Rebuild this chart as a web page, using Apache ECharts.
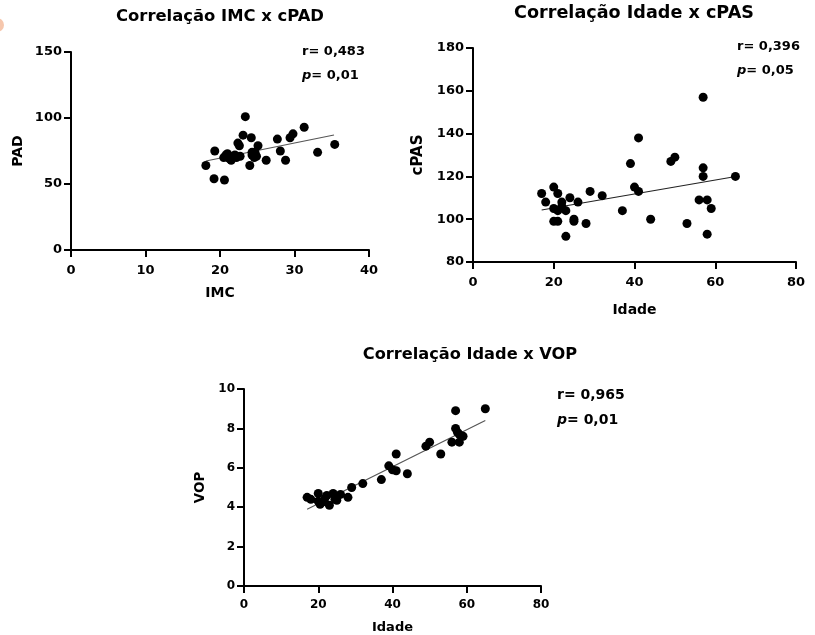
<!DOCTYPE html>
<html>
<head>
<meta charset="utf-8">
<script src="https://cdn.jsdelivr.net/npm/echarts@6/dist/echarts.min.js"></script>
<style>
  html, body { margin: 0; padding: 0; background: #fff; }
  #chart { width: 815px; height: 635px; }
</style>
</head>
<body>
<div id="chart"></div>
<script>
// Correlação IMC x cPAD : [IMC, PAD]
const imcPad = [
  [18.1, 64], [19.2, 54], [19.3, 75], [20.6, 53], [20.8, 72], [21.1, 70],
  [21.5, 68], [21.8, 71], [22.2, 70], [22.7, 71], [21.0, 73], [21.3, 69],
  [22.0, 72], [20.5, 70], [22.4, 81], [22.6, 79], [23.1, 87], [23.4, 101],
  [24.2, 85], [24.0, 64], [24.3, 72], [24.3, 74], [24.6, 70], [24.7, 74],
  [24.9, 71], [25.1, 79], [26.2, 68], [27.7, 84], [28.1, 75], [28.8, 68],
  [29.4, 85], [29.8, 88], [31.3, 93], [33.1, 74], [35.4, 80]
];
const imcPadFit = [[18.1, 67.4], [35.3, 87.1]];

// Correlação Idade x cPAS : [Idade, cPAS]
const idadePas = [
  [17, 112], [18, 108], [20, 115], [21, 112], [22, 108], [20, 105],
  [21, 104], [22, 106], [23, 104], [24, 110], [26, 108], [20, 99],
  [21, 99], [25, 100], [25, 99], [23, 92], [28, 98], [29, 113],
  [32, 111], [37, 104], [39, 126], [40, 115], [41, 113], [41, 138],
  [44, 100], [49, 127], [50, 129], [53, 98], [56, 109], [57, 157],
  [57, 124], [57, 120], [58, 109], [58, 93], [59, 105], [65, 120]
];
const idadePasFit = [[17, 104.3], [64, 119.6]];

// Correlação Idade x VOP : [Idade, VOP]
const idadeVop = [
  [17, 4.5], [18, 4.4], [20, 4.7], [20, 4.3], [20.5, 4.15], [21, 4.25],
  [21.8, 4.45], [22.3, 4.6], [23, 4.1], [24, 4.7], [24.5, 4.4], [25, 4.35],
  [26, 4.65], [28, 4.5], [29, 5.0], [32, 5.2], [37, 5.4], [39, 6.1],
  [40, 5.9], [41, 5.85], [41, 6.7], [44, 5.7], [49, 7.1], [50, 7.3],
  [53, 6.7], [56, 7.3], [57, 8.9], [57, 8.0], [57.5, 7.8], [58, 7.3],
  [58, 7.7], [59, 7.6], [65, 9.0]
];
const idadeVopFit = [[17, 3.9], [65, 8.4]];

const titles = ['Correlação IMC x cPAD', 'Correlação Idade x cPAS', 'Correlação Idade x VOP'];
const xNames = ['IMC', 'Idade', 'Idade'];
const yNames = ['PAD', 'cPAS', 'VOP'];
const rTexts = ['r= 0,483', 'r= 0,396', 'r= 0,965'];
const pTexts = ['= 0,01', '= 0,05', '= 0,01'];

const FONT = '"DejaVu Sans", "Liberation Sans", Arial, sans-serif';

function axisBase(fontSize) {
  return {
    axisLine: { show: true, onZero: false, lineStyle: { color: '#000', width: 2 } },
    axisTick: { show: true, length: 7, lineStyle: { color: '#000', width: 2 } },
    splitLine: { show: false },
    axisLabel: { color: '#000', fontWeight: 'bold', fontSize: fontSize, fontFamily: FONT },
    nameTextStyle: { color: '#000', fontWeight: 'bold', fontFamily: FONT },
    nameLocation: 'middle'
  };
}

function xAxis(i, min, max, interval, fontSize, nameGap, nameSize, labelMargin) {
  const a = axisBase(fontSize);
  return Object.assign(a, {
    type: 'value', gridIndex: i, min: min, max: max, interval: interval,
    name: xNames[i], nameGap: nameGap,
    nameTextStyle: Object.assign(a.nameTextStyle, { fontSize: nameSize }),
    axisLabel: Object.assign(a.axisLabel, { margin: labelMargin })
  });
}

function yAxis(i, min, max, interval, fontSize, nameGap, nameSize) {
  const a = axisBase(fontSize);
  return Object.assign(a, {
    type: 'value', gridIndex: i, min: min, max: max, interval: interval,
    name: yNames[i], nameGap: nameGap,
    nameTextStyle: Object.assign(a.nameTextStyle, { fontSize: nameSize }),
    axisLabel: Object.assign(a.axisLabel, { margin: 9 })
  });
}

function scatter(i, data) {
  return {
    type: 'scatter', xAxisIndex: i, yAxisIndex: i, data: data,
    symbol: 'circle', symbolSize: 9, itemStyle: { color: '#000', opacity: 1 },
    z: 3
  };
}

function fitLine(i, data, color) {
  return {
    type: 'line', xAxisIndex: i, yAxisIndex: i, data: data,
    showSymbol: false, symbol: 'none',
    lineStyle: { color: color, width: 1.2 }, z: 2, silent: true
  };
}

function annotation(left, top, idx, size) {
  return [
    { type: 'text', left: left, top: top,
      style: { text: rTexts[idx], fill: '#000', font: 'bold ' + size + 'px ' + FONT } },
    { type: 'text', left: left, top: top + (size + 11),
      style: {
        text: '{i|p}{n|' + pTexts[idx] + '}', fill: '#000',
        rich: {
          i: { fontStyle: 'italic', fontWeight: 'bold', fontSize: size, fontFamily: FONT, fill: '#000' },
          n: { fontWeight: 'bold', fontSize: size, fontFamily: FONT, fill: '#000' }
        }
      } }
  ];
}

const chart = echarts.init(document.getElementById('chart'), null, { renderer: 'canvas' });

chart.setOption({
  backgroundColor: '#fff',
  animation: false,
  title: [
    { text: titles[0], left: 220, top: 9, textAlign: 'center', padding: 0,
      textStyle: { fontSize: 16.4, fontWeight: 'bold', fontFamily: FONT, color: '#000' } },
    { text: titles[1], left: 634, top: 4, textAlign: 'center', padding: 0,
      textStyle: { fontSize: 17.6, fontWeight: 'bold', fontFamily: FONT, color: '#000' } },
    { text: titles[2], left: 470, top: 347, textAlign: 'center', padding: 0,
      textStyle: { fontSize: 16.2, fontWeight: 'bold', fontFamily: FONT, color: '#000' } }
  ],
  grid: [
    { left: 71, top: 52, width: 298, height: 198 },
    { left: 473, top: 48, width: 323, height: 214 },
    { left: 244, top: 389, width: 297, height: 199 }
  ],
  xAxis: [
    xAxis(0, 0, 40, 10, 13, 36, 14, 14),
    xAxis(1, 0, 80, 20, 13, 41, 14, 14),
    xAxis(2, 0, 80, 20, 12, 35, 13, 13)
  ],
  yAxis: [
    yAxis(0, 0, 150, 50, 13, 46, 14),
    yAxis(1, 80, 180, 20, 13, 47, 15),
    yAxis(2, 0, 10, 2, 12, 37, 13.5)
  ],
  series: [
    fitLine(0, imcPadFit, '#555'),
    scatter(0, imcPad),
    fitLine(1, idadePasFit, '#222'),
    scatter(1, idadePas),
    fitLine(2, idadeVopFit, '#555'),
    scatter(2, idadeVop)
  ],
  graphic: [
    { type: 'circle', shape: { cx: -3, cy: 25, r: 7 }, style: { fill: '#f6c7ad' }, silent: true }
  ].concat(
    annotation(302, 45, 0, 13),
    annotation(737, 40, 1, 13),
    annotation(557, 388, 2, 14)
  )
});
</script>
</body>
</html>
